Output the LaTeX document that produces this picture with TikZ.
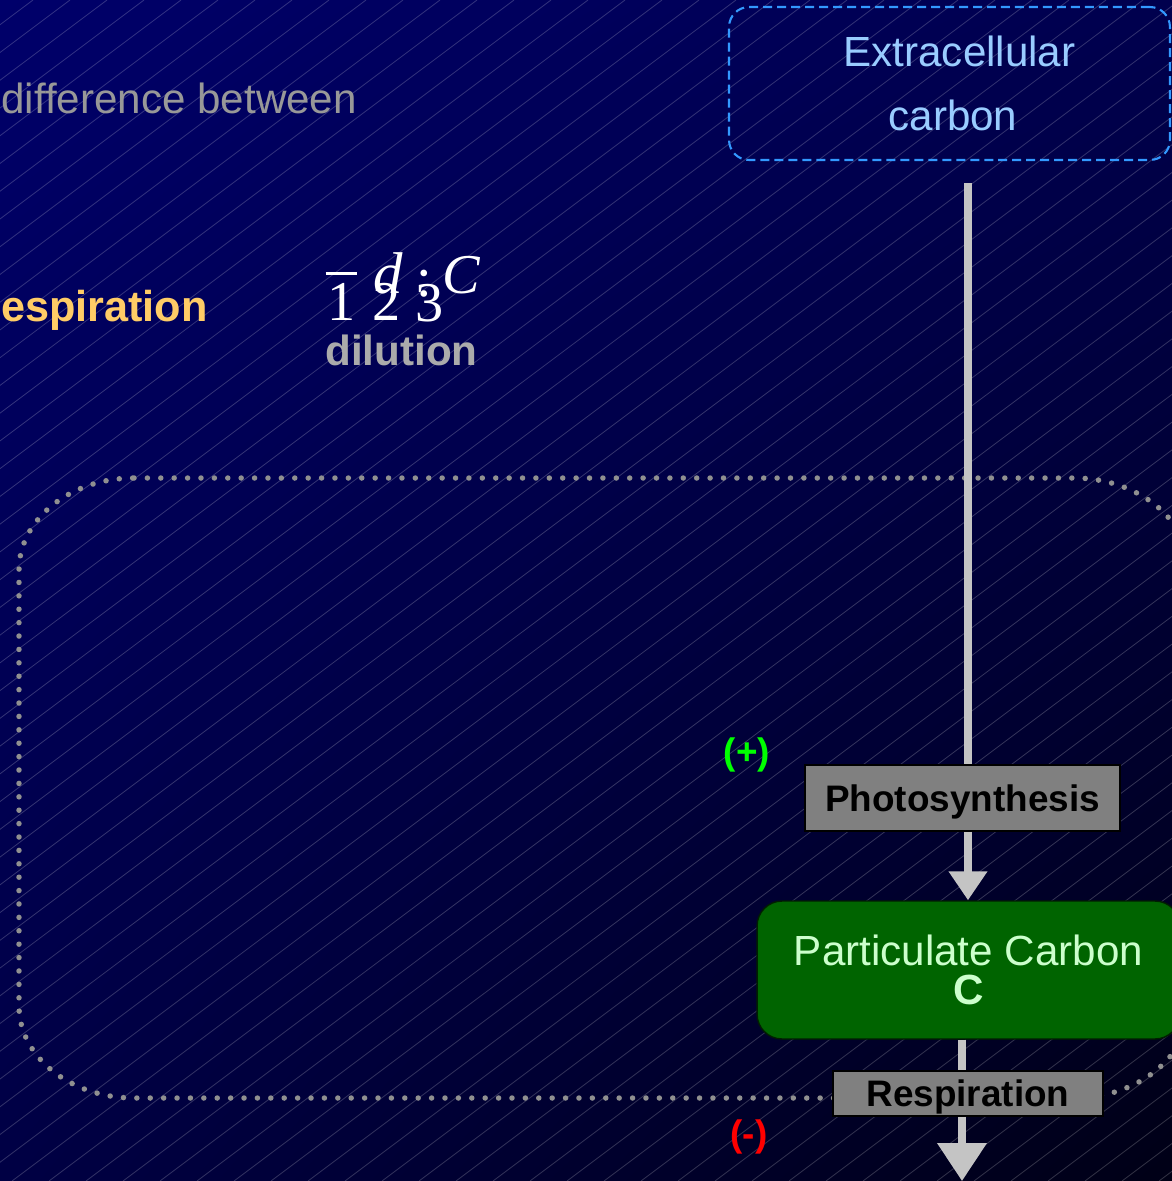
\documentclass[tikz,border=0pt]{standalone}
\usepackage{fontspec}
\setmainfont{Liberation Sans}
\newfontfamily\serifnum{Liberation Serif}
\usetikzlibrary{arrows.meta,shadings}

\definecolor{bgtl}{HTML}{00006A}
\definecolor{bgtr}{HTML}{00004E}
\definecolor{bgbl}{HTML}{000044}
\definecolor{bgbr}{HTML}{000016}
\definecolor{boxgray}{HTML}{808080}
\definecolor{flowgray}{HTML}{C4C4C4}
\definecolor{dotgray}{HTML}{909090}
\definecolor{softgray}{HTML}{989898}
\definecolor{poolgreen}{HTML}{006400}
\definecolor{pooltext}{HTML}{CCFFCC}
\definecolor{extblue}{HTML}{3399FF}
\definecolor{exttext}{HTML}{99CCFF}
\definecolor{resporange}{HTML}{FFCC66}

\begin{document}
\begin{tikzpicture}[x=0.02cm, y=-0.02cm,
  hatch/.style={white, opacity=0.2, line width=0.45pt},
  cellwall/.style={dotgray, line width=0.11cm, line cap=round, dash pattern=on 0pt off 0.268cm},
  ext/.style={draw=extblue, line width=1.2pt, dash pattern=on 0.18cm off 0.1cm, rounded corners=0.4cm,
    minimum width=8.82cm, minimum height=3.06cm, align=center, text=exttext, font=\fontsize{24}{36}\selectfont},
  process/.style={draw=black, line width=1.1pt, fill=boxgray, inner sep=0pt, text depth=0pt,
    font=\fontsize{21}{21}\selectfont\bfseries},
  pool/.style={draw=black!70!poolgreen, line width=0.8pt, fill=poolgreen, rounded corners=0.5cm, inner sep=0pt,
    minimum width=8.46cm, minimum height=2.76cm, align=center, text=pooltext, font=\fontsize{24}{22}\selectfont},
  flow/.style={flowgray, line width=0.15cm},
  sign/.style={font=\fontsize{21}{21}\selectfont\bfseries, inner sep=0pt},
  label/.style={inner sep=0pt, anchor=base},
  digit/.style={label, white, font=\serifnum\fontsize{32}{32}\selectfont},
]
\useasboundingbox (0,0) rectangle (1172,1181);
\begin{scope}
  \clip (0,0) rectangle (1172,1181);
  \shade[shading=bilinear interpolation, upper left=bgtl, upper right=bgtr, lower left=bgbl, lower right=bgbr]
    (0,0) rectangle (1172,1181);
  \foreach \a in {33,70,...,2800}
    \draw[hatch] (\a,0) -- ++(-1575,1181);
\end{scope}

% texts on the left
\node[label, anchor=base west, text=softgray, font=\fontsize{24}{24}\selectfont] (diff) at (1,113) {difference between};
\node[label, anchor=base east, text=resporange, font=\fontsize{24.6}{25}\selectfont\bfseries] (resptxt) at (208,321) {Respiration};
\node[label, anchor=base west, text=black!33, font=\fontsize{24}{24}\selectfont\bfseries] (dil) at (325,365) {dilution};

% the broken fraction
\node[digit] (one) at (341.5,320) {\makebox[0pt][l]{\hspace{-1pt}\raisebox{25.9pt}{\rule{17.6pt}{1.5pt}}}1};
\node[digit] (two) at (386.5,320) {2};
\node[digit] (three) at (430,321) {3};
\node[digit, font=\serifnum\itshape\fontsize{33.5}{34}\selectfont] (dd) at (388,293) {d};
\node[digit] (colon) at (424,296) {:};
\node[digit, font=\serifnum\itshape\fontsize{32}{32}\selectfont] (cc) at (461,293) {C};

% cell
\draw[cellwall] (134,478) -- (1074,478) arc[start angle=270, end angle=360, x radius=115, y radius=92]
  -- (1189,1006) arc[start angle=0, end angle=90, x radius=115, y radius=92]
  -- (134,1098) arc[start angle=90, end angle=180, x radius=115, y radius=92]
  -- (19,570) arc[start angle=180, end angle=270, x radius=115, y radius=92] -- cycle;

\node[ext] (ext) at (949.5,83.5) {\hspace*{0.4cm}Extracellular\\\hspace*{0.14cm}carbon};
\coordinate (src) at (968,183);
\node[process, minimum width=6.3cm, minimum height=1.32cm] (photo) at (962.5,798) {Photosynthesis};
\node[pool] (part) at (968.5,970) {Particulate Carbon\\\textbf{C}};
\node[process, minimum width=5.4cm, minimum height=0.9cm] (resp) at (968,1093.5) {Respiration};
\coordinate (sink) at (962,1181);

\draw[flow] (src) -- (src |- photo.north);
\draw[flow, -{Triangle[width=0.74cm,length=0.58cm]}] (src |- photo.south) -- (src |- part.north);
\draw[flow] (sink |- part.south) -- (sink |- resp.north);
\draw[flow, -{Triangle[width=0.96cm,length=0.76cm]}] (sink |- resp.south) -- (sink);

\node[sign, text=green] (plus) at (747,755) {(+)};
\node[sign, text=red] (minus) at (749,1137) {(-)};
\end{tikzpicture}
\end{document}
